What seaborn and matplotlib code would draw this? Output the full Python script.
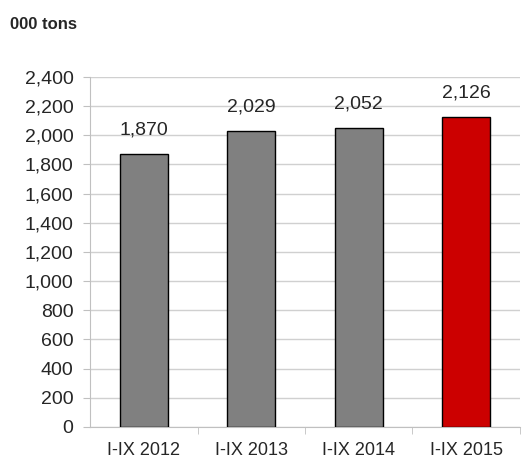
import matplotlib
matplotlib.use("Agg")
import matplotlib.pyplot as plt
from matplotlib.ticker import FuncFormatter, FixedLocator
import seaborn as sns
import pandas as pd

periods = ["I-IX 2012", "I-IX 2013", "I-IX 2014", "I-IX 2015"]
volumes = [1870, 2029, 2052, 2126]
bar_colors = ["#808080", "#808080", "#808080", "#CC0000"]

sns.set_style("white")
plt.rcParams["font.family"] = ["Liberation Sans", "DejaVu Sans"]

df = pd.DataFrame({"period": periods, "volume": volumes})

fig = plt.figure(figsize=(5.30, 4.63), dpi=100)
ax = fig.add_axes([0.170, 0.078, 0.811, 0.756])

sns.barplot(data=df, x="period", y="volume", hue="period",
            palette=bar_colors, saturation=1, width=0.45, edgecolor="black",
            linewidth=1.0, legend=False, ax=ax, zorder=3)

ax.set_ylim(0, 2400)
ax.set_xlim(-0.5, 3.5)
ax.set_yticks(range(0, 2401, 200))
ax.yaxis.set_major_formatter(FuncFormatter(lambda v, p: f"{int(v):,}"))
ax.yaxis.grid(True, color="#d0d0d0", linewidth=1.0, zorder=0)
ax.set_axisbelow(True)

for spine in ["top", "right"]:
    ax.spines[spine].set_visible(False)
ax.spines["left"].set_color("#c0c0c0")
ax.spines["bottom"].set_color("#c0c0c0")

ax.tick_params(axis="y", which="major", length=5, color="#c0c0c0",
               labelsize=14, pad=7, left=True)
ax.tick_params(axis="x", which="major", length=0, labelsize=13, pad=11)
ax.xaxis.set_minor_locator(FixedLocator([0.5, 1.5, 2.5, 3.5]))
ax.tick_params(axis="x", which="minor", length=5, color="#c0c0c0", bottom=True)

ax.set_xlabel("")
ax.set_ylabel("")

for i, v in enumerate(volumes):
    ax.annotate(f"{v:,}", xy=(i, v), xytext=(0, 11), textcoords="offset points",
                ha="center", va="bottom", fontsize=14)

fig.text(0.019, 0.948, "000 tons", fontsize=12, fontweight="bold",
         ha="left", va="center")

fig.savefig("out.png", dpi=100)
